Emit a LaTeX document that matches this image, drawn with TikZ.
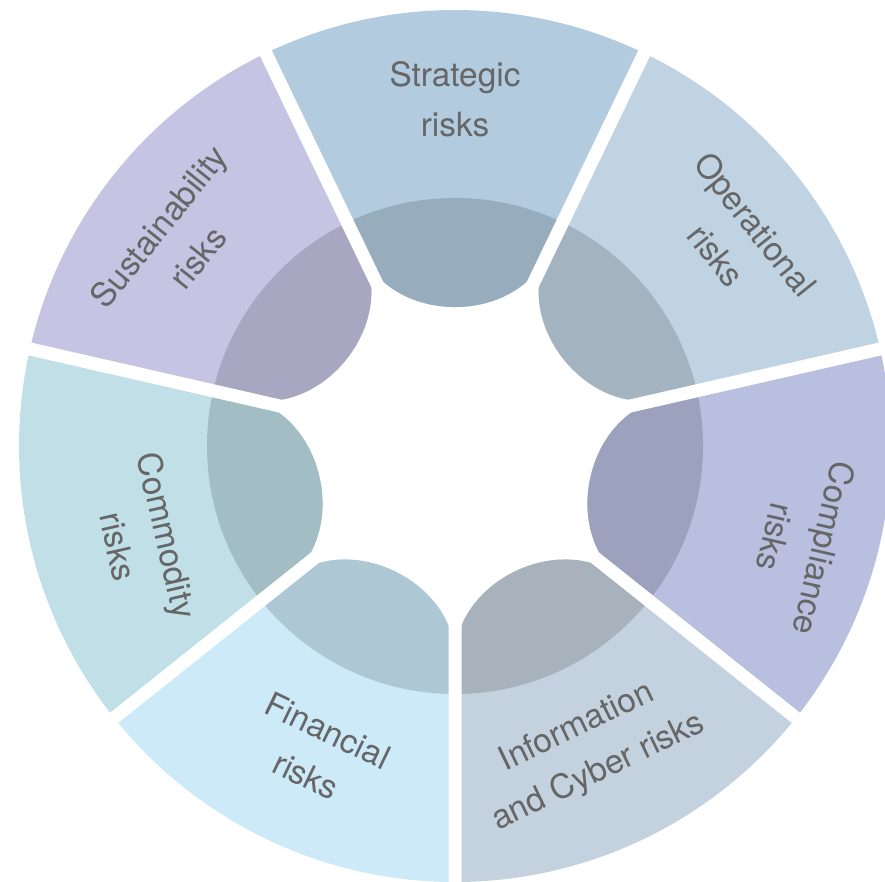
\documentclass[tikz,border=0pt]{standalone}
\usepackage{fontspec}
\setmainfont{TeX Gyre Heros}
\definecolor{strategic}{HTML}{B2CBDF}
\definecolor{operational}{HTML}{C0D3E2}
\definecolor{compliance}{HTML}{B8BFDF}
\definecolor{cyber}{HTML}{C4D2DF}
\definecolor{financial}{HTML}{CDEAF9}
\definecolor{commodity}{HTML}{C0DFE6}
\definecolor{sustain}{HTML}{C5C4E3}
\definecolor{labelgray}{HTML}{666666}
\begin{document}
\begin{tikzpicture}[x=0.2mm,y=0.2mm,
  every node/.style={font=\fontsize{19}{28.4}\selectfont,text=labelgray,align=center,inner sep=0pt},
  seg/.style={fill=#1,path picture={\fill[#1!85!black] (O) circle[radius=49.6mm];}},
  gap/.style={white,line width=2.6mm}]
  \useasboundingbox (-455,-435) rectangle (430,446);
  \coordinate (O) at (0,0);
  % ring segments, inner end rounded like a drop
  \path[seg=strategic] (64.29:436) arc[start angle=64.29,end angle=115.71,radius=436] -- (115.71:212) .. controls (115.71:135) and (64.29:135) .. (64.29:212) -- cycle;
  \path[seg=sustain] (115.71:436) arc[start angle=115.71,end angle=167.14,radius=436] -- (167.14:212) .. controls (167.14:135) and (115.71:135) .. (115.71:212) -- cycle;
  \path[seg=commodity] (167.14:436) arc[start angle=167.14,end angle=218.57,radius=436] -- (218.57:212) .. controls (218.57:135) and (167.14:135) .. (167.14:212) -- cycle;
  \path[seg=financial] (218.57:436) arc[start angle=218.57,end angle=270,radius=436] -- (270:212) .. controls (270:135) and (218.57:135) .. (218.57:212) -- cycle;
  \path[seg=cyber] (270:436) arc[start angle=270,end angle=321.43,radius=436] -- (321.43:212) .. controls (321.43:135) and (270:135) .. (270:212) -- cycle;
  \path[seg=compliance] (321.43:436) arc[start angle=321.43,end angle=372.86,radius=436] -- (372.86:212) .. controls (372.86:135) and (321.43:135) .. (321.43:212) -- cycle;
  \path[seg=operational] (12.86:436) arc[start angle=12.86,end angle=64.29,radius=436] -- (64.29:212) .. controls (64.29:135) and (12.86:135) .. (12.86:212) -- cycle;
  % white gaps
  \draw[gap] (O) -- (12.86:460) (O) -- (64.29:460) (O) -- (115.71:460) (O) -- (167.14:460)
    (O) -- (218.57:460) (O) -- (270:460) (O) -- (321.43:460);
  % labels
  \node (strat) at (0,347) {Strategic\\risks};
  \node[rotate=-51.43] (oper) at (281,206) {Operational\\risks};
  \node[rotate=-102.86] (compl) at (345,-97) {Compliance\\risks};
  \node[rotate=25.71] (info) at (133,-304) {Information\\and Cyber risks};
  \node[rotate=-25.71] (fin) at (-138,-307) {Financial\\risks};
  \node[rotate=-77.14] (commod) at (-312,-95) {Commodity\\risks};
  \node[rotate=51.43] (sustain) at (-277,204) {Sustainability\\risks};
\end{tikzpicture}
\end{document}
